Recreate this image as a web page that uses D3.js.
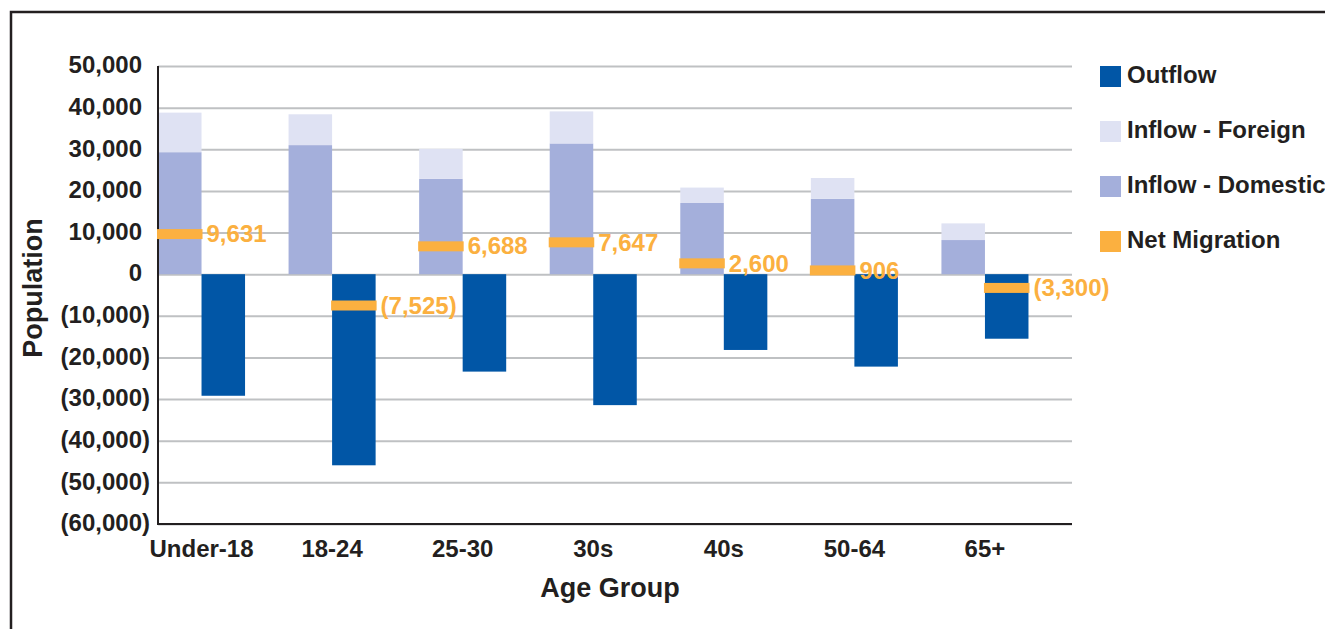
<!DOCTYPE html>
<html>
<head>
<meta charset="utf-8">
<script src="https://cdn.jsdelivr.net/npm/d3@7"></script>
<style>
html,body{margin:0;padding:0;background:#fff;}
svg{display:block;}
text{font-family:"Liberation Sans",Arial,sans-serif;font-weight:bold;}
</style>
</head>
<body>
<svg id="chart" width="1325" height="629"></svg>
<script>
const categories = ["Under-18","18-24","25-30","30s","40s","50-64","65+"];
const inflowDomestic = [29300, 31000, 22900, 31400, 17100, 18100, 8200];
const inflowForeign  = [9500, 7400, 7200, 7700, 3700, 5000, 4000];
const outflow        = [-29200, -45900, -23400, -31450, -18200, -22200, -15500];
const netMigration   = [9631, -7525, 6688, 7647, 2600, 906, -3300];
const yTicks = [50000, 40000, 30000, 20000, 10000, 0, -10000, -20000, -30000, -40000, -50000, -60000];
const legendItems = ["Outflow","Inflow - Foreign","Inflow - Domestic","Net Migration"];

const colors = {
  "Outflow": "#0156a6",
  "Inflow - Foreign": "#dfe2f3",
  "Inflow - Domestic": "#a4afdb",
  "Net Migration": "#fbb040"
};
const textColor = "#231f20";

const svg = d3.select("#chart");
const plot = {left: 158, right: 1072, top: 66, bottom: 524};

// frame
svg.append("path")
  .attr("d", `M11,629 L11,12 L1325,12`)
  .attr("fill","none").attr("stroke", textColor).attr("stroke-width", 2.5);

const x = d3.scaleBand().domain(categories)
  .range([plot.left, plot.right])
  .paddingInner(1/3).paddingOuter(1/6).align(0);
const xs = d3.scaleBand().domain(["in","out"]).range([0, x.bandwidth()]);
const y = d3.scaleLinear().domain([-60000, 50000]).range([plot.bottom, plot.top]);

const fmt = v => v < 0 ? "(" + d3.format(",")(-v) + ")" : d3.format(",")(v);

// gridlines + y tick labels
const yAxis = d3.axisLeft(y).tickValues(yTicks).tickFormat("")
  .tickSize(-(plot.right - plot.left));
const gy = svg.append("g").attr("transform", `translate(${plot.left},0)`).call(yAxis);
gy.select(".domain").remove();
gy.selectAll(".tick line").attr("stroke", "#bfc1c3").attr("stroke-width", 2);
gy.selectAll(".tick text").remove();
gy.selectAll(".tick").append("text")
  .attr("x", -8).attr("dy", "0.28em").attr("text-anchor", "end")
  .attr("fill", textColor).style("font-size", "24px")
  .each(function(d) {
    const t = d3.select(this);
    if (d < 0) { t.text(fmt(d)); }
    else {
      t.append("tspan").text(fmt(d));
      t.append("tspan").attr("fill-opacity", 0).text(")");
    }
  });

// bars
const data = categories.map((c,i) => ({c, dom: inflowDomestic[i], for: inflowForeign[i], out: outflow[i], net: netMigration[i]}));
const gBars = svg.append("g");
gBars.selectAll(".dom").data(data).join("rect")
  .attr("x", d => x(d.c) + xs("in")).attr("width", xs.bandwidth())
  .attr("y", d => y(d.dom)).attr("height", d => y(0) - y(d.dom))
  .attr("fill", colors["Inflow - Domestic"]);
gBars.selectAll(".for").data(data).join("rect")
  .attr("x", d => x(d.c) + xs("in")).attr("width", xs.bandwidth())
  .attr("y", d => y(d.dom + d.for)).attr("height", d => y(d.dom) - y(d.dom + d.for))
  .attr("fill", colors["Inflow - Foreign"]);
gBars.selectAll(".out").data(data).join("rect")
  .attr("x", d => x(d.c) + xs("out")).attr("width", xs.bandwidth())
  .attr("y", y(0)).attr("height", d => y(d.out) - y(0))
  .attr("fill", colors["Outflow"]);

// axes lines
svg.append("line").attr("x1", plot.left).attr("x2", plot.left)
  .attr("y1", plot.top).attr("y2", plot.bottom + 1)
  .attr("stroke", textColor).attr("stroke-width", 2);
svg.append("line").attr("x1", plot.left - 1).attr("x2", plot.right)
  .attr("y1", y(-60000)).attr("y2", y(-60000))
  .attr("stroke", textColor).attr("stroke-width", 2);

// x axis labels
const xAxis = d3.axisBottom(x).tickSize(0).tickPadding(16);
const gx = svg.append("g").attr("transform", `translate(0,${plot.bottom})`).call(xAxis);
gx.select(".domain").remove();
gx.selectAll(".tick text").attr("fill", textColor).style("font-size", "24px");

// net migration markers
const netX = d => x(d.c) + (d.net >= 0 ? xs("in") : xs("out"));
svg.append("g").selectAll("rect").data(data).join("rect")
  .attr("x", d => netX(d) - 1).attr("width", xs.bandwidth() + 2)
  .attr("y", d => y(d.net) - 5).attr("height", 10)
  .attr("fill", colors["Net Migration"]);
svg.append("g").selectAll("text").data(data).join("text")
  .attr("x", d => netX(d) + xs.bandwidth() + 5)
  .attr("y", d => y(d.net)).attr("dy", "0.34em")
  .attr("fill", colors["Net Migration"]).style("font-size", "24px")
  .text(d => fmt(d.net));

// axis titles
svg.append("text").attr("transform", `translate(42,288) rotate(-90)`)
  .attr("text-anchor","middle").attr("fill", textColor).style("font-size","27px").text("Population");
svg.append("text").attr("x", 610).attr("y", 597)
  .attr("text-anchor","middle").attr("fill", textColor).style("font-size","27px").text("Age Group");

// legend
const lg = svg.append("g");
legendItems.forEach((k,i) => {
  const yy = 66 + i*55;
  lg.append("rect").attr("x", 1100).attr("y", yy).attr("width", 21).attr("height", 21).attr("fill", colors[k]);
  lg.append("text").attr("x", 1127).attr("y", yy + 9).attr("dy","0.34em")
    .attr("fill", textColor).style("font-size","24px").text(k);
});
</script>
</body>
</html>
